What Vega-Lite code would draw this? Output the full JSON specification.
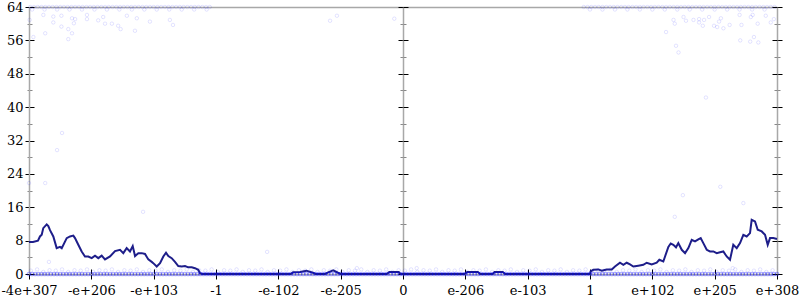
{
  "$schema": "https://vega.github.io/schema/vega-lite/v6.json",
  "width": 748,
  "height": 267,
  "autosize": {"type": "none"},
  "padding": {"left": 29, "top": 7, "right": 23, "bottom": 26},
  "background": "white",
  "config": {
    "view": {"stroke": null},
    "axis": {"labelFont": "DejaVu Serif", "labelFontSize": 13, "labelColor": "black", "domainColor": "#a8a8a8", "domainWidth": 1.5, "tickColor": "black", "tickWidth": 1, "grid": false, "title": null, "zindex": 1, "labelOverlap": false, "labelFlush": false}
  },
  "datasets": {
    "line": [
      {"x":0,"y":7.7},{"x":0.064,"y":7.7},{"x":0.144,"y":8},{"x":0.176,"y":9},{"x":0.204,"y":9.4},{"x":0.229,"y":11},{"x":0.284,"y":11.9},{"x":0.31,"y":11.5},{"x":0.337,"y":10.5},{"x":0.39,"y":9},{"x":0.444,"y":6.2},{"x":0.497,"y":6.5},{"x":0.525,"y":6.2},{"x":0.605,"y":8.6},{"x":0.658,"y":9},{"x":0.711,"y":9.2},{"x":0.738,"y":8.6},{"x":0.791,"y":7},{"x":0.845,"y":5.4},{"x":0.898,"y":4.2},{"x":0.951,"y":4.2},{"x":1.006,"y":3.8},{"x":1.059,"y":4.4},{"x":1.112,"y":3.8},{"x":1.166,"y":4.4},{"x":1.219,"y":3.5},{"x":1.3,"y":4.2},{"x":1.38,"y":5.5},{"x":1.46,"y":5.8},{"x":1.513,"y":5.0},{"x":1.567,"y":6.2},{"x":1.62,"y":5.4},{"x":1.664,"y":6.7},{"x":1.701,"y":4.3},{"x":1.754,"y":5},{"x":1.808,"y":5},{"x":1.861,"y":4.8},{"x":1.914,"y":3.5},{"x":1.969,"y":2.9},{"x":1.994,"y":2.6},{"x":2.049,"y":1.8},{"x":2.102,"y":2.6},{"x":2.155,"y":4.2},{"x":2.198,"y":5.1},{"x":2.235,"y":4.3},{"x":2.289,"y":3.8},{"x":2.342,"y":2.9},{"x":2.395,"y":1.9},{"x":2.45,"y":1.8},{"x":2.503,"y":1.9},{"x":2.556,"y":1.6},{"x":2.61,"y":1.6},{"x":2.663,"y":1.4},{"x":2.716,"y":1.0},{"x":2.743,"y":0.2},{"x":2.776,"y":0},
      {"x":4.2,"y":0},{"x":4.236,"y":0.4},{"x":4.35,"y":0.5},{"x":4.45,"y":0.8},{"x":4.556,"y":0.3},{"x":4.6,"y":0},{"x":4.749,"y":0},{"x":4.8,"y":0.4},{"x":4.88,"y":0.9},{"x":4.957,"y":0.3},{"x":5.0,"y":0},{"x":5.74,"y":0},{"x":5.78,"y":0.5},{"x":5.93,"y":0.5},{"x":5.96,"y":0},{"x":6.99,"y":0},{"x":7.03,"y":0.5},{"x":7.2,"y":0.5},{"x":7.24,"y":0},{"x":7.44,"y":0},{"x":7.47,"y":0.5},{"x":7.6,"y":0.5},{"x":7.64,"y":0},{"x":9.0,"y":0},
      {"x":9.01,"y":0.6},{"x":9.053,"y":1},{"x":9.134,"y":1.1},{"x":9.188,"y":0.8},{"x":9.268,"y":1.1},{"x":9.349,"y":1.1},{"x":9.401,"y":1.8},{"x":9.481,"y":2.7},{"x":9.535,"y":2.2},{"x":9.589,"y":2.7},{"x":9.642,"y":2.3},{"x":9.695,"y":1.8},{"x":9.775,"y":2},{"x":9.855,"y":2.2},{"x":9.91,"y":2.7},{"x":9.99,"y":2.3},{"x":10.07,"y":2.7},{"x":10.112,"y":3.4},{"x":10.176,"y":3.0},{"x":10.204,"y":4.2},{"x":10.257,"y":6.5},{"x":10.295,"y":7.3},{"x":10.337,"y":7},{"x":10.38,"y":6.4},{"x":10.417,"y":7.4},{"x":10.472,"y":5.8},{"x":10.525,"y":5},{"x":10.578,"y":6.2},{"x":10.632,"y":8.2},{"x":10.685,"y":7.8},{"x":10.738,"y":8.3},{"x":10.776,"y":8.6},{"x":10.818,"y":7.4},{"x":10.873,"y":5.8},{"x":10.926,"y":5.4},{"x":10.979,"y":5.4},{"x":11.033,"y":5},{"x":11.086,"y":5.2},{"x":11.139,"y":5.4},{"x":11.193,"y":4.2},{"x":11.246,"y":3.4},{"x":11.299,"y":7},{"x":11.354,"y":6.2},{"x":11.407,"y":7.4},{"x":11.46,"y":9.4},{"x":11.514,"y":9},{"x":11.567,"y":9.8},{"x":11.594,"y":13},{"x":11.647,"y":12.6},{"x":11.691,"y":10.6},{"x":11.755,"y":10.2},{"x":11.808,"y":9.4},{"x":11.851,"y":7},{"x":11.888,"y":8.6},{"x":11.941,"y":8.6},{"x":12,"y":8.4}
    ],
    "zeros": [
      {"x":0,"y":0},{"x":0.05,"y":0},{"x":0.1,"y":0},{"x":0.15,"y":0},{"x":0.2,"y":0},{"x":0.25,"y":0},{"x":0.3,"y":0},{"x":0.35,"y":0},{"x":0.4,"y":0},{"x":0.45,"y":0},
      {"x":0.5,"y":0},{"x":0.55,"y":0},{"x":0.6,"y":0},{"x":0.65,"y":0},{"x":0.7,"y":0},{"x":0.75,"y":0},{"x":0.8,"y":0},{"x":0.85,"y":0},{"x":0.9,"y":0},{"x":0.95,"y":0},
      {"x":1,"y":0},{"x":1.05,"y":0},{"x":1.1,"y":0},{"x":1.15,"y":0},{"x":1.2,"y":0},{"x":1.25,"y":0},{"x":1.3,"y":0},{"x":1.35,"y":0},{"x":1.4,"y":0},{"x":1.45,"y":0},
      {"x":1.5,"y":0},{"x":1.55,"y":0},{"x":1.6,"y":0},{"x":1.65,"y":0},{"x":1.7,"y":0},{"x":1.75,"y":0},{"x":1.8,"y":0},{"x":1.85,"y":0},{"x":1.9,"y":0},{"x":1.95,"y":0},
      {"x":2,"y":0},{"x":2.05,"y":0},{"x":2.1,"y":0},{"x":2.15,"y":0},{"x":2.2,"y":0},{"x":2.25,"y":0},{"x":2.3,"y":0},{"x":2.35,"y":0},{"x":2.4,"y":0},{"x":2.45,"y":0},
      {"x":2.5,"y":0},{"x":2.55,"y":0},{"x":2.6,"y":0},{"x":2.65,"y":0},{"x":2.7,"y":0},{"x":2.75,"y":0},{"x":2.8,"y":0},{"x":2.85,"y":0},{"x":2.9,"y":0},{"x":2.95,"y":0},
      {"x":3,"y":0},{"x":3.05,"y":0},{"x":3.1,"y":0},{"x":3.15,"y":0},{"x":3.2,"y":0},{"x":3.25,"y":0},{"x":3.3,"y":0},{"x":3.35,"y":0},{"x":3.4,"y":0},{"x":3.45,"y":0},
      {"x":3.5,"y":0},{"x":3.55,"y":0},{"x":3.6,"y":0},{"x":3.65,"y":0},{"x":3.7,"y":0},{"x":3.75,"y":0},{"x":3.8,"y":0},{"x":3.85,"y":0},{"x":3.9,"y":0},{"x":3.95,"y":0},
      {"x":4,"y":0},{"x":4.05,"y":0},{"x":4.1,"y":0},{"x":4.15,"y":0},{"x":4.2,"y":0},{"x":4.25,"y":0},{"x":4.3,"y":0},{"x":4.35,"y":0},{"x":4.4,"y":0},{"x":4.45,"y":0},
      {"x":4.5,"y":0},{"x":4.55,"y":0},{"x":4.6,"y":0},{"x":4.65,"y":0},{"x":4.7,"y":0},{"x":4.75,"y":0},{"x":4.8,"y":0},{"x":4.85,"y":0},{"x":4.9,"y":0},{"x":4.95,"y":0},
      {"x":5,"y":0},{"x":5.05,"y":0},{"x":5.1,"y":0},{"x":5.15,"y":0},{"x":5.2,"y":0},{"x":5.25,"y":0},{"x":5.3,"y":0},{"x":5.35,"y":0},{"x":5.4,"y":0},{"x":5.45,"y":0},
      {"x":5.5,"y":0},{"x":5.55,"y":0},{"x":5.6,"y":0},{"x":5.65,"y":0},{"x":5.7,"y":0},{"x":5.75,"y":0},{"x":5.8,"y":0},{"x":5.85,"y":0},{"x":5.9,"y":0},{"x":5.95,"y":0},
      {"x":6,"y":0},{"x":6.05,"y":0},{"x":6.1,"y":0},{"x":6.15,"y":0},{"x":6.2,"y":0},{"x":6.25,"y":0},{"x":6.3,"y":0},{"x":6.35,"y":0},{"x":6.4,"y":0},{"x":6.45,"y":0},
      {"x":6.5,"y":0},{"x":6.55,"y":0},{"x":6.6,"y":0},{"x":6.65,"y":0},{"x":6.7,"y":0},{"x":6.75,"y":0},{"x":6.8,"y":0},{"x":6.85,"y":0},{"x":6.9,"y":0},{"x":6.95,"y":0},
      {"x":7,"y":0},{"x":7.05,"y":0},{"x":7.1,"y":0},{"x":7.15,"y":0},{"x":7.2,"y":0},{"x":7.25,"y":0},{"x":7.3,"y":0},{"x":7.35,"y":0},{"x":7.4,"y":0},{"x":7.45,"y":0},
      {"x":7.5,"y":0},{"x":7.55,"y":0},{"x":7.6,"y":0},{"x":7.65,"y":0},{"x":7.7,"y":0},{"x":7.75,"y":0},{"x":7.8,"y":0},{"x":7.85,"y":0},{"x":7.9,"y":0},{"x":7.95,"y":0},
      {"x":8,"y":0},{"x":8.05,"y":0},{"x":8.1,"y":0},{"x":8.15,"y":0},{"x":8.2,"y":0},{"x":8.25,"y":0},{"x":8.3,"y":0},{"x":8.35,"y":0},{"x":8.4,"y":0},{"x":8.45,"y":0},
      {"x":8.5,"y":0},{"x":8.55,"y":0},{"x":8.6,"y":0},{"x":8.65,"y":0},{"x":8.7,"y":0},{"x":8.75,"y":0},{"x":8.8,"y":0},{"x":8.85,"y":0},{"x":8.9,"y":0},{"x":8.95,"y":0},
      {"x":9,"y":0},{"x":9.05,"y":0},{"x":9.1,"y":0},{"x":9.15,"y":0},{"x":9.2,"y":0},{"x":9.25,"y":0},{"x":9.3,"y":0},{"x":9.35,"y":0},{"x":9.4,"y":0},{"x":9.45,"y":0},
      {"x":9.5,"y":0},{"x":9.55,"y":0},{"x":9.6,"y":0},{"x":9.65,"y":0},{"x":9.7,"y":0},{"x":9.75,"y":0},{"x":9.8,"y":0},{"x":9.85,"y":0},{"x":9.9,"y":0},{"x":9.95,"y":0},
      {"x":10,"y":0},{"x":10.05,"y":0},{"x":10.1,"y":0},{"x":10.15,"y":0},{"x":10.2,"y":0},{"x":10.25,"y":0},{"x":10.3,"y":0},{"x":10.35,"y":0},{"x":10.4,"y":0},{"x":10.45,"y":0},
      {"x":10.5,"y":0},{"x":10.55,"y":0},{"x":10.6,"y":0},{"x":10.65,"y":0},{"x":10.7,"y":0},{"x":10.75,"y":0},{"x":10.8,"y":0},{"x":10.85,"y":0},{"x":10.9,"y":0},{"x":10.95,"y":0},
      {"x":11,"y":0},{"x":11.05,"y":0},{"x":11.1,"y":0},{"x":11.15,"y":0},{"x":11.2,"y":0},{"x":11.25,"y":0},{"x":11.3,"y":0},{"x":11.35,"y":0},{"x":11.4,"y":0},{"x":11.45,"y":0},
      {"x":11.5,"y":0},{"x":11.55,"y":0},{"x":11.6,"y":0},{"x":11.65,"y":0},{"x":11.7,"y":0},{"x":11.75,"y":0},{"x":11.8,"y":0},{"x":11.85,"y":0},{"x":11.9,"y":0},{"x":11.95,"y":0},{"x":12,"y":0}
    ],
    "pts": [
      {"x":0.03,"y":0.8},{"x":0.13,"y":1.1},{"x":0.23,"y":0.5},{"x":0.33,"y":0.9},{"x":0.43,"y":0.8},{"x":0.53,"y":1.1},{"x":0.63,"y":0.5},{"x":0.73,"y":0.9},{"x":0.83,"y":0.8},{"x":0.93,"y":1.1},
      {"x":1.03,"y":0.5},{"x":1.13,"y":0.9},{"x":1.23,"y":0.8},{"x":1.33,"y":1.1},{"x":1.43,"y":0.5},{"x":1.53,"y":0.9},{"x":1.63,"y":0.8},{"x":1.73,"y":1.1},{"x":1.83,"y":0.5},{"x":1.93,"y":0.9},
      {"x":2.03,"y":0.8},{"x":2.13,"y":1.1},{"x":2.23,"y":0.5},{"x":2.33,"y":0.9},{"x":2.43,"y":0.8},{"x":2.53,"y":1.1},{"x":2.63,"y":0.5},{"x":2.73,"y":0.9},{"x":2.83,"y":0.8},{"x":2.93,"y":1.1},
      {"x":3.03,"y":0.5},{"x":3.13,"y":0.9},{"x":3.23,"y":0.8},{"x":3.33,"y":1.1},{"x":3.43,"y":0.5},{"x":3.53,"y":0.9},{"x":3.63,"y":0.8},{"x":3.73,"y":1.1},{"x":3.83,"y":0.5},{"x":3.93,"y":0.9},
      {"x":4.03,"y":0.8},{"x":4.13,"y":1.1},{"x":4.23,"y":0.5},{"x":4.33,"y":0.9},{"x":4.43,"y":0.8},{"x":4.53,"y":1.1},{"x":4.63,"y":0.5},{"x":4.73,"y":0.9},{"x":4.83,"y":0.8},{"x":4.93,"y":1.1},
      {"x":5.03,"y":0.5},{"x":5.13,"y":0.9},{"x":5.23,"y":0.8},{"x":5.33,"y":1.1},{"x":5.43,"y":0.5},{"x":5.53,"y":0.9},{"x":5.63,"y":0.8},{"x":5.73,"y":1.1},{"x":5.83,"y":0.5},{"x":5.93,"y":0.9},
      {"x":6.03,"y":0.8},{"x":6.13,"y":1.1},{"x":6.23,"y":0.5},{"x":6.33,"y":0.9},{"x":6.43,"y":0.8},{"x":6.53,"y":1.1},{"x":6.63,"y":0.5},{"x":6.73,"y":0.9},{"x":6.83,"y":0.8},{"x":6.93,"y":1.1},
      {"x":7.03,"y":0.5},{"x":7.13,"y":0.9},{"x":7.23,"y":0.8},{"x":7.33,"y":1.1},{"x":7.43,"y":0.5},{"x":7.53,"y":0.9},{"x":7.63,"y":0.8},{"x":7.73,"y":1.1},{"x":7.83,"y":0.5},{"x":7.93,"y":0.9},
      {"x":8.03,"y":0.8},{"x":8.13,"y":1.1},{"x":8.23,"y":0.5},{"x":8.33,"y":0.9},{"x":8.43,"y":0.8},{"x":8.53,"y":1.1},{"x":8.63,"y":0.5},{"x":8.73,"y":0.9},{"x":8.83,"y":0.8},{"x":8.93,"y":1.1},
      {"x":9.03,"y":0.5},{"x":9.13,"y":0.9},{"x":9.23,"y":0.8},{"x":9.33,"y":1.1},{"x":9.43,"y":0.5},{"x":9.53,"y":0.9},{"x":9.63,"y":0.8},{"x":9.73,"y":1.1},{"x":9.83,"y":0.5},{"x":9.93,"y":0.9},
      {"x":10.03,"y":0.8},{"x":10.13,"y":1.1},{"x":10.23,"y":0.5},{"x":10.33,"y":0.9},{"x":10.43,"y":0.8},{"x":10.53,"y":1.1},{"x":10.63,"y":0.5},{"x":10.73,"y":0.9},{"x":10.83,"y":0.8},{"x":10.93,"y":1.1},
      {"x":11.03,"y":0.5},{"x":11.13,"y":0.9},{"x":11.23,"y":0.8},{"x":11.33,"y":1.1},{"x":11.43,"y":0.5},{"x":11.53,"y":0.9},{"x":11.63,"y":0.8},{"x":11.73,"y":1.1},{"x":11.83,"y":0.5},{"x":11.93,"y":0.9},
      {"x":0.02,"y":64},{"x":0.08,"y":64},{"x":0.14,"y":64},{"x":0.2,"y":64},{"x":0.26,"y":64},{"x":0.32,"y":64},{"x":0.38,"y":64},{"x":0.44,"y":64},{"x":0.5,"y":64},{"x":0.56,"y":64},
      {"x":0.62,"y":64},{"x":0.68,"y":64},{"x":0.74,"y":64},{"x":0.8,"y":64},{"x":0.86,"y":64},{"x":0.92,"y":64},{"x":0.98,"y":64},{"x":1.04,"y":64},{"x":1.1,"y":64},{"x":1.16,"y":64},
      {"x":1.22,"y":64},{"x":1.28,"y":64},{"x":1.34,"y":64},{"x":1.4,"y":64},{"x":1.46,"y":64},{"x":1.52,"y":64},{"x":1.58,"y":64},{"x":1.64,"y":64},{"x":1.7,"y":64},{"x":1.76,"y":64},
      {"x":1.82,"y":64},{"x":1.88,"y":64},{"x":1.94,"y":64},{"x":2,"y":64},{"x":2.06,"y":64},{"x":2.12,"y":64},{"x":2.18,"y":64},{"x":2.24,"y":64},{"x":2.3,"y":64},{"x":2.36,"y":64},
      {"x":2.42,"y":64},{"x":2.48,"y":64},{"x":2.54,"y":64},{"x":2.6,"y":64},{"x":2.66,"y":64},{"x":2.72,"y":64},{"x":2.78,"y":64},{"x":2.84,"y":64},{"x":2.9,"y":64},
      {"x":8.9,"y":64},{"x":8.96,"y":64},{"x":9.02,"y":64},{"x":9.08,"y":64},{"x":9.14,"y":64},{"x":9.2,"y":64},{"x":9.26,"y":64},{"x":9.32,"y":64},{"x":9.38,"y":64},{"x":9.44,"y":64},
      {"x":9.5,"y":64},{"x":9.56,"y":64},{"x":9.62,"y":64},{"x":9.68,"y":64},{"x":9.74,"y":64},{"x":9.8,"y":64},{"x":9.86,"y":64},{"x":9.92,"y":64},{"x":9.98,"y":64},{"x":10.04,"y":64},
      {"x":10.1,"y":64},{"x":10.16,"y":64},{"x":10.22,"y":64},{"x":10.28,"y":64},{"x":10.34,"y":64},{"x":10.4,"y":64},{"x":10.46,"y":64},{"x":10.52,"y":64},{"x":10.58,"y":64},{"x":10.64,"y":64},
      {"x":10.7,"y":64},{"x":10.76,"y":64},{"x":10.82,"y":64},{"x":10.88,"y":64},{"x":10.94,"y":64},{"x":11,"y":64},{"x":11.06,"y":64},{"x":11.12,"y":64},{"x":11.18,"y":64},{"x":11.24,"y":64},
      {"x":11.3,"y":64},{"x":11.36,"y":64},{"x":11.42,"y":64},{"x":11.48,"y":64},{"x":11.54,"y":64},{"x":11.6,"y":64},{"x":11.66,"y":64},{"x":11.72,"y":64},{"x":11.78,"y":64},{"x":11.84,"y":64},{"x":11.9,"y":64},{"x":11.96,"y":64},
      {"x":0.05,"y":63.4},{"x":0.25,"y":63.4},{"x":0.45,"y":63.4},{"x":0.65,"y":63.4},{"x":0.85,"y":63.4},{"x":1.05,"y":63.4},{"x":1.25,"y":63.4},{"x":1.45,"y":63.4},{"x":1.65,"y":63.4},{"x":1.85,"y":63.4},{"x":2.05,"y":63.4},{"x":2.25,"y":63.4},{"x":2.45,"y":63.4},{"x":2.65,"y":63.4},{"x":2.85,"y":63.4},
      {"x":9.0,"y":63.4},{"x":9.2,"y":63.4},{"x":9.4,"y":63.4},{"x":9.6,"y":63.4},{"x":9.8,"y":63.4},{"x":10.0,"y":63.4},{"x":10.2,"y":63.4},{"x":10.4,"y":63.4},{"x":10.6,"y":63.4},{"x":10.8,"y":63.4},{"x":11.0,"y":63.4},{"x":11.2,"y":63.4},{"x":11.4,"y":63.4},{"x":11.6,"y":63.4},{"x":11.8,"y":63.4},
      {"x":0.23,"y":62.1},{"x":0.39,"y":61.7},{"x":0.52,"y":61.9},{"x":0.69,"y":61.3},{"x":0.74,"y":61.1},{"x":0.39,"y":60.3},{"x":0.72,"y":60.1},{"x":0.52,"y":59.3},{"x":0.63,"y":58.7},{"x":0.69,"y":57.7},{"x":0.63,"y":56.3},{"x":0.26,"y":57.7},{"x":0.07,"y":56.8},{"x":0.01,"y":60.9},{"x":0.93,"y":62.1},{"x":0.93,"y":61.1},{"x":1.11,"y":60.8},{"x":1.19,"y":61.6},{"x":1.22,"y":60},{"x":1.33,"y":60},{"x":1.43,"y":59.5},{"x":1.47,"y":58.7},{"x":1.57,"y":61.9},{"x":1.7,"y":58.3},{"x":1.73,"y":61.3},{"x":1.94,"y":60.5},{"x":2.26,"y":60.9},{"x":2.31,"y":59.7},
      {"x":10.34,"y":60.9},{"x":10.36,"y":60},{"x":10.5,"y":61.6},{"x":10.54,"y":60.7},{"x":10.66,"y":60.9},{"x":10.75,"y":61.1},{"x":10.75,"y":60.3},{"x":10.83,"y":60.9},{"x":10.91,"y":61.6},{"x":10.81,"y":59.5},{"x":10.99,"y":59.5},{"x":11.04,"y":59.2},{"x":11.1,"y":61.3},{"x":11.07,"y":60.5},{"x":11.14,"y":58.9},{"x":11.24,"y":59.7},{"x":11.4,"y":62.1},{"x":11.43,"y":59.7},{"x":11.58,"y":61.6},{"x":11.61,"y":62.1},{"x":11.69,"y":60},{"x":11.82,"y":61.9},{"x":11.9,"y":60.3},{"x":11.95,"y":61.1},{"x":10.22,"y":58},{"x":10.38,"y":54.7},{"x":10.42,"y":53.1},{"x":11.41,"y":56},{"x":11.57,"y":55.7},{"x":11.63,"y":56.8},{"x":11.7,"y":55.5},{"x":10.86,"y":42.3},
      {"x":4.83,"y":60.7},{"x":4.94,"y":61.9},{"x":5.86,"y":61.2},
      {"x":0.0,"y":21.8},{"x":0.26,"y":21.8},{"x":1.83,"y":14.9},{"x":0.32,"y":2.9},{"x":3.82,"y":5.3},{"x":5.26,"y":1.4},{"x":6.22,"y":1.4},{"x":10.49,"y":18.9},{"x":11.09,"y":20.9},{"x":11.46,"y":17},{"x":10.36,"y":13.7},{"x":11.29,"y":1.4},{"x":0.53,"y":33.8},{"x":0.45,"y":29.7}
    ]
  },
  "resolve": {"axis": {"x": "independent", "y": "independent"}},
  "layer": [
    {
      "data": {"name": "line"},
      "mark": {"type": "line", "color": "#1e1e8a", "strokeWidth": 2, "interpolate": "linear"},
      "encoding": {
        "x": {"field": "x", "type": "quantitative", "scale": {"domain": [0, 12], "nice": false, "zero": false},
          "axis": {"orient": "top", "offset": -267, "values": [0,1,2,3,4,5,6,7,8,9,10,11,12], "labels": false, "domain": false, "tickSize": 5}},
        "y": {"field": "y", "type": "quantitative", "scale": {"domain": [0, 64], "nice": false},
          "axis": {"orient": "right", "offset": -748, "values": [0,4,8,12,16,20,24,28,32,36,40,44,48,52,56,60,64], "labels": false, "domain": false,
            "tickSize": {"condition": {"test": "datum.value % 8 === 0", "value": 5}, "value": 3},
            "tickColor": {"condition": {"test": "datum.value % 8 === 0", "value": "black"}, "value": "#888888"}}}
      }
    },
    {
      "data": {"name": "pts"},
      "mark": {"type": "point", "shape": "circle", "filled": false, "color": "#0000ff", "strokeOpacity": 0.15, "strokeWidth": 1, "size": 12},
      "encoding": {
        "x": {"field": "x", "type": "quantitative", "scale": {"domain": [0, 12], "nice": false, "zero": false},
          "axis": {"orient": "bottom", "values": [0,1,2,3,4,5,6,7,8,9,10,11,12], "tickSize": 5, "labelPadding": 5,
            "labelExpr": "['-4e+307','-e+206','-e+103','-1','-e-102','-e-205','0','e-206','e-103','1','e+102','e+205','e+308'][datum.value]"}},
        "y": {"field": "y", "type": "quantitative", "scale": {"domain": [0, 64], "nice": false},
          "axis": {"orient": "left", "values": [0,4,8,12,16,20,24,28,32,36,40,44,48,52,56,60,64], "labelPadding": 2,
            "labelExpr": "datum.value % 8 === 0 ? datum.label : ''",
            "tickSize": {"condition": {"test": "datum.value % 8 === 0", "value": 4}, "value": 2},
            "tickColor": {"condition": {"test": "datum.value % 8 === 0", "value": "black"}, "value": "#888888"}}}
      }
    },
    {
      "data": {"name": "zeros"},
      "mark": {"type": "point", "shape": "circle", "filled": false, "color": "#0000ff", "strokeOpacity": 0.45, "strokeWidth": 1.2, "size": 12},
      "encoding": {
        "x": {"field": "x", "type": "quantitative", "scale": {"domain": [0, 12], "nice": false, "zero": false}, "axis": null},
        "y": {"field": "y", "type": "quantitative", "scale": {"domain": [0, 64], "nice": false}, "axis": null}
      }
    },
    {
      "data": {"name": "line"},
      "mark": {"type": "line", "opacity": 0},
      "encoding": {
        "x": {"field": "x", "type": "quantitative", "scale": {"domain": [0, 12], "nice": false, "zero": false},
          "axis": {"orient": "top", "ticks": false, "labels": false, "domain": true}},
        "y": {"field": "y", "type": "quantitative", "scale": {"domain": [0, 64], "nice": false},
          "axis": {"orient": "left", "offset": -374, "values": [0,4,8,12,16,20,24,28,32,36,40,44,48,52,56,60,64], "labels": false, "domain": true,
            "tickSize": {"condition": {"test": "datum.value % 8 === 0", "value": 5}, "value": 3},
            "tickColor": {"condition": {"test": "datum.value % 8 === 0", "value": "black"}, "value": "#888888"}}}
      }
    },
    {
      "data": {"name": "line"},
      "mark": {"type": "line", "opacity": 0},
      "encoding": {
        "x": {"field": "x", "type": "quantitative", "scale": {"domain": [0, 12], "nice": false, "zero": false}, "axis": null},
        "y": {"field": "y", "type": "quantitative", "scale": {"domain": [0, 64], "nice": false},
          "axis": {"orient": "right", "offset": -374, "values": [0,4,8,12,16,20,24,28,32,36,40,44,48,52,56,60,64], "labels": false, "domain": false,
            "tickSize": {"condition": {"test": "datum.value % 8 === 0", "value": 5}, "value": 3},
            "tickColor": {"condition": {"test": "datum.value % 8 === 0", "value": "black"}, "value": "#888888"}}}
      }
    },
    {
      "data": {"name": "line"},
      "mark": {"type": "line", "opacity": 0},
      "encoding": {
        "x": {"field": "x", "type": "quantitative", "scale": {"domain": [0, 12], "nice": false, "zero": false}, "axis": null},
        "y": {"field": "y", "type": "quantitative", "scale": {"domain": [0, 64], "nice": false},
          "axis": {"orient": "right", "values": [0,4,8,12,16,20,24,28,32,36,40,44,48,52,56,60,64], "labels": false, "domain": true,
            "tickSize": {"condition": {"test": "datum.value % 8 === 0", "value": 5}, "value": 3},
            "tickColor": {"condition": {"test": "datum.value % 8 === 0", "value": "black"}, "value": "#888888"}}}
      }
    },
    {
      "data": {"name": "line"},
      "mark": {"type": "line", "opacity": 0},
      "encoding": {
        "x": {"field": "x", "type": "quantitative", "scale": {"domain": [0, 12], "nice": false, "zero": false}, "axis": null},
        "y": {"field": "y", "type": "quantitative", "scale": {"domain": [0, 64], "nice": false},
          "axis": {"orient": "left", "offset": -748, "values": [0,4,8,12,16,20,24,28,32,36,40,44,48,52,56,60,64], "labels": false, "domain": false,
            "tickSize": {"condition": {"test": "datum.value % 8 === 0", "value": 5}, "value": 3},
            "tickColor": {"condition": {"test": "datum.value % 8 === 0", "value": "black"}, "value": "#888888"}}}
      }
    }
  ]
}
